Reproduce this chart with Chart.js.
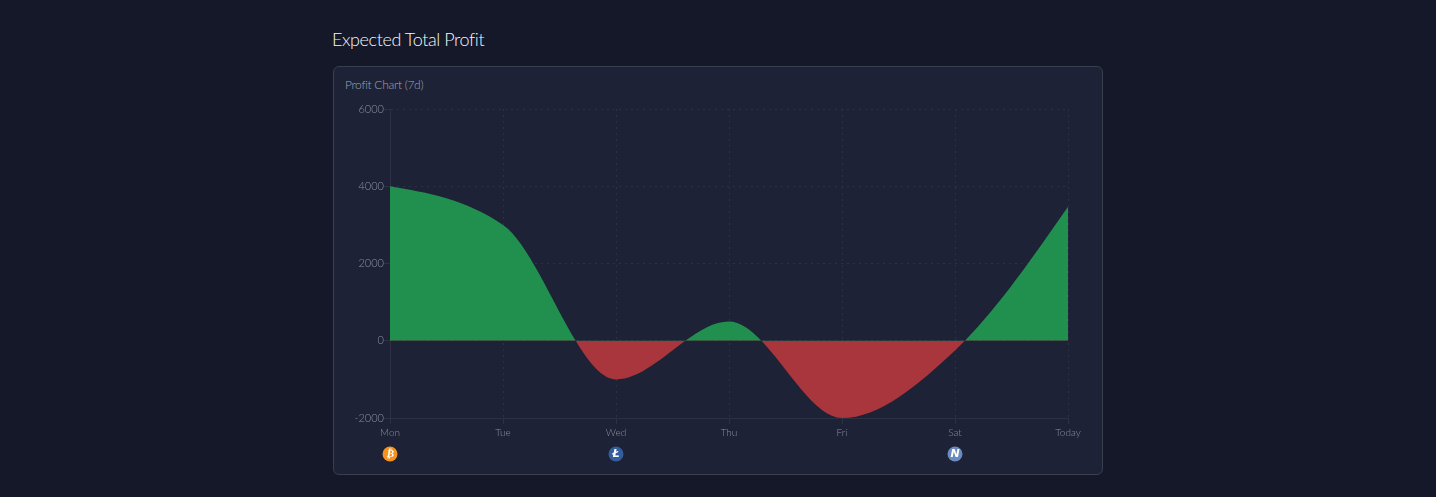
<!DOCTYPE html>
<html><head><meta charset="utf-8">
<script src="https://cdn.jsdelivr.net/npm/chart.js@4"></script>
<style>
html,body{margin:0;padding:0;width:1436px;height:497px;overflow:hidden;background:#141828;font-family:Lato,sans-serif}
h1{position:absolute;left:332px;top:27px;margin:0;font-size:18px;letter-spacing:-0.4px;line-height:24px;font-weight:300;color:#f6f7f9}
#panel{position:absolute;left:332.5px;top:65.5px;width:770px;height:409px;box-sizing:border-box;background:#1d2236;border:1px solid #3a3f4e;border-radius:6px}
#sub{position:absolute;left:345px;top:77px;font-size:12px;letter-spacing:-0.3px;line-height:16px;font-weight:300;color:#a0a5b2}
canvas{position:absolute;left:0;top:0}
</style></head><body>
<h1>Expected Total Profit</h1>
<div id="panel"></div>
<div id="sub">Profit Chart (7d)</div>
<canvas id="c" width="1436" height="497"></canvas>
<script>
const days=["Mon","Tue","Wed","Thu","Fri","Sat","Today"];
const profit=[4000,3000,-1000,500,-2000,-250,3470];
const yTicks=[6000,4000,2000,0,-2000];
const coinAt=["Mon","Wed","Sat"];
const coinGlyphs=["₿","Ł","N"];
const coinColors=["#f7931a","#345d9d","#6a8bbf"];

const coins={id:"coins",afterDraw(ch){
  const c=ch.ctx,x=ch.scales.x;
  coinAt.forEach((d,i)=>{
    const px=x.getPixelForValue(days.indexOf(d));
    c.save();c.fillStyle=coinColors[i];c.beginPath();c.arc(px,454,7.5,0,Math.PI*2);c.fill();
    c.fillStyle="#fff";c.font="bold italic 11px 'DejaVu Sans'";c.textAlign="center";c.textBaseline="middle";
    c.fillText(coinGlyphs[i],px,454.5);c.restore();
  });
}};
// Monotone tangents (Steffen) computed from the points the library placed
const smooth={id:"smooth",beforeDatasetsDraw(ch){
  const line=ch.getDatasetMeta(0).dataset,pts=ch.getDatasetMeta(0).data;
  line.updateControlPoints(ch.chartArea,"x");
  const n=pts.length,s=[],m=[];
  for(let i=0;i<n-1;i++)s[i]=(pts[i+1].y-pts[i].y)/(pts[i+1].x-pts[i].x);
  for(let i=1;i<n-1;i++){
    const h0=pts[i].x-pts[i-1].x,h1=pts[i+1].x-pts[i].x,p=(s[i-1]*h1+s[i]*h0)/(h0+h1);
    m[i]=(Math.sign(s[i-1])+Math.sign(s[i]))*Math.min(Math.abs(s[i-1]),Math.abs(s[i]),0.5*Math.abs(p))||0;
  }
  m[0]=(3*s[0]-m[1])/2;m[n-1]=(3*s[n-2]-m[n-2])/2;
  for(let i=0;i<n;i++){
    const dxN=i<n-1?(pts[i+1].x-pts[i].x)/3:0,dxP=i>0?(pts[i].x-pts[i-1].x)/3:0;
    pts[i].cp1x=pts[i].x-dxP;pts[i].cp1y=pts[i].y-m[i]*dxP;
    pts[i].cp2x=pts[i].x+dxN;pts[i].cp2y=pts[i].y+m[i]*dxN;
  }
}};
Chart.defaults.font.family='Lato,sans-serif';
new Chart(document.getElementById("c"),{
  type:"line",
  data:{labels:days,datasets:[{data:profit,cubicInterpolationMode:"monotone",borderWidth:0,pointRadius:0,
    fill:{target:"origin",above:"#21904f",below:"#a8363c"}}]},
  plugins:[smooth,coins],
  options:{responsive:false,animation:false,
    layout:{padding:{top:109,right:368,bottom:0,left:0}},
    plugins:{legend:{display:false},tooltip:{enabled:false}},
    scales:{
      x:{position:"bottom",offset:false,
        grid:{color:"#2c3144",lineWidth:1,tickLength:6,tickColor:"#2c3144"},
        border:{color:"#2c3144",dash:[2,4]},
        ticks:{color:"#8a8f9e",font:{size:10,weight:300},padding:3,maxRotation:0,autoSkip:false},
        afterFit(s){s.height=497-418;}
      },
      y:{min:-2000,max:6000,
        afterBuildTicks(s){s.ticks=yTicks.map(v=>({value:v}));},
        grid:{color:"#2c3144",lineWidth:1,tickLength:6,tickColor:"#2c3144"},
        border:{color:"#2c3144",dash:[2,4]},
        ticks:{color:"#8a8f9e",font:{size:11,weight:300},padding:0,callback:v=>String(v)},
        afterFit(s){s.width=390;}
      }
    }
  },
});
</script></body></html>
